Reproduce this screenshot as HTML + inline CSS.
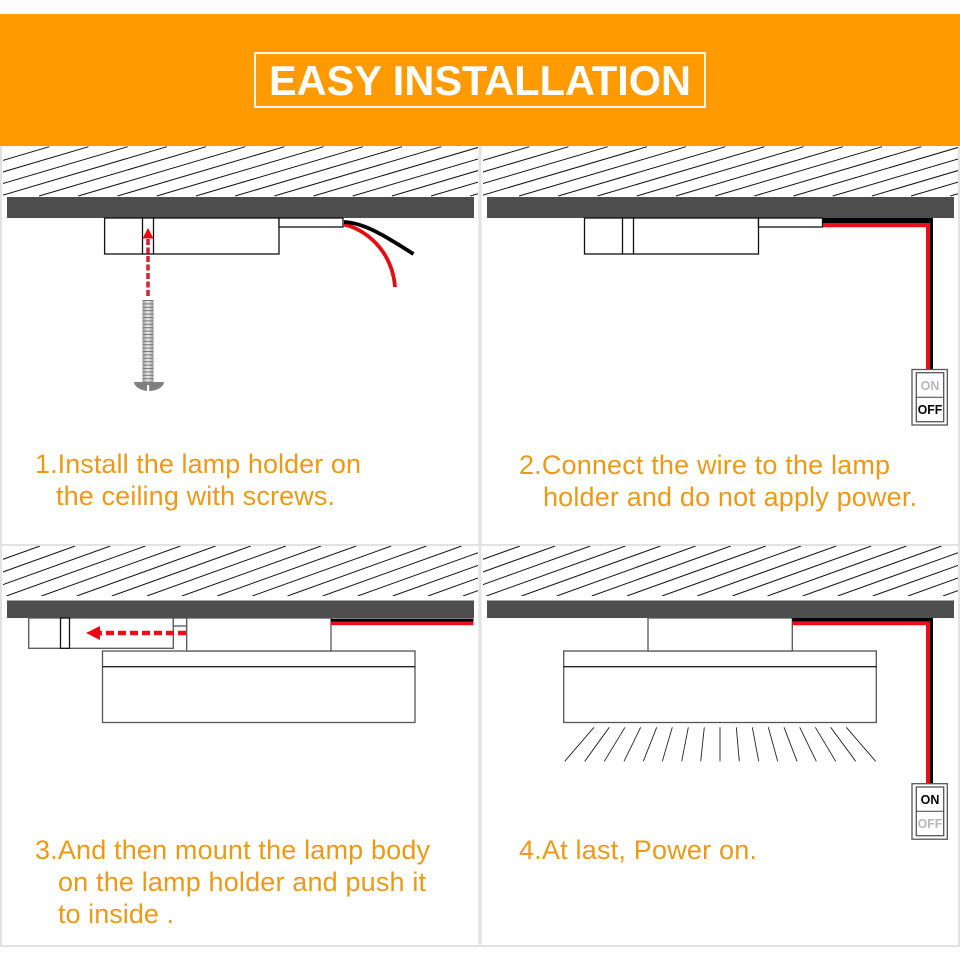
<!DOCTYPE html>
<html>
<head>
<meta charset="utf-8">
<style>
html,body{margin:0;padding:0;background:#fff}
svg{display:block}
text{font-family:"Liberation Sans",Arial,sans-serif}
.t{font-size:27px;fill:#eb9a18}
.b{fill:#fff;stroke:#111;stroke-width:1.3}
.g{fill:#fff;stroke:#555;stroke-width:1.3}
.s{font-size:13px;font-weight:bold;text-anchor:middle}
</style>
</head>
<body>
<svg width="960" height="960" viewBox="0 0 960 960" xmlns="http://www.w3.org/2000/svg">
<defs>
<clipPath id="c1"><rect x="3" y="146" width="475" height="50.500"/></clipPath>
<clipPath id="c3"><rect x="3" y="546" width="475" height="50"/></clipPath>
<g id="h1" clip-path="url(#c1)">
<path fill="none" stroke="#111" stroke-width="1" d="M49.300 146.700l-167 49.300M88.500 146.700l-167 49.300M127.700 146.700l-167 49.300M166.900 146.700l-167 49.300M206.100 146.700l-167 49.300M245.300 146.700l-167 49.300M284.500 146.700l-167 49.300M323.700 146.700l-167 49.300M362.900 146.700l-167 49.300M402.100 146.700l-167 49.300M441.300 146.700l-167 49.300M480.500 146.700l-167 49.300M519.700 146.700l-167 49.300M558.900 146.700l-167 49.300M598.100 146.700l-167 49.300M637.300 146.700l-167 49.300"/>
</g>
<g id="h3" clip-path="url(#c3)">
<path fill="none" stroke="#111" stroke-width="1" d="M40 546l-139 50M75.100 546l-139 50M110.300 546l-139 50M145.400 546l-139 50M180.500 546l-139 50M215.700 546l-139 50M250.800 546l-139 50M285.900 546l-139 50M321 546l-139 50M356.200 546l-139 50M391.300 546l-139 50M426.500 546l-139 50M461.600 546l-139 50M496.700 546l-139 50M531.800 546l-139 50M567 546l-139 50M602 546l-139 50"/>
</g>
<linearGradient id="thr" x1="0" x2="1" y1="0" y2="0">
<stop offset="0" stop-color="#999"/><stop offset=".5" stop-color="#eee"/><stop offset="1" stop-color="#999"/>
</linearGradient>
<pattern id="st" width="12" height="3.400" patternUnits="userSpaceOnUse" x="0" y="300">
<rect width="12" height="1" fill="#777"/>
</pattern>
</defs>

<rect x="0" y="14" width="960" height="132" fill="#ff9a00"/>
<rect x="255" y="53" width="450" height="54" fill="none" stroke="#fff" stroke-width="1.800"/>
<text x="269" y="95" font-size="41.500" font-weight="bold" fill="#fff" textLength="422" lengthAdjust="spacing">EASY INSTALLATION</text>

<!-- panel borders -->
<rect x="0" y="146" width="2" height="801" fill="#e2e2e2"/>
<rect x="958" y="146" width="2" height="801" fill="#e2e2e2"/>
<rect x="478.500" y="146" width="3" height="801" fill="#e2e2e2"/>
<rect x="0" y="544" width="960" height="2" fill="#e2e2e2"/>
<rect x="0" y="945" width="960" height="2" fill="#e2e2e2"/>

<!-- panel 1 -->
<use href="#h1"/>
<rect x="7" y="197" width="467" height="21" fill="#4d4d4d"/>
<rect class="b" x="104.600" y="218" width="174.400" height="36"/>
<path d="M142.500 218v36M153.500 218v36" stroke="#111" stroke-width="1.300"/>
<rect class="b" x="279" y="218" width="64" height="9"/>
<path d="M344 224.500C365 229 392 250 395 287" fill="none" stroke="#e60d12" stroke-width="3.800"/>
<path d="M344 222C365 223 385 236 413.500 254" fill="none" stroke="#000" stroke-width="3.800"/>
<path d="M148 296V238" stroke="#d52030" stroke-width="3.500" stroke-dasharray="6 2.500" fill="none"/>
<path d="M148 228l5.500 10.500h-11z" fill="#f00510"/>
<rect x="142.500" y="300" width="11" height="82" fill="url(#thr)"/>
<rect x="142.500" y="300" width="11" height="82" fill="url(#st)"/>
<path d="M134 382H164C163.500 387.500 156 391 149 391C142 391 134.500 387.500 134 382Z" fill="#808080"/>
<rect x="147" y="385" width="2.200" height="6" fill="#fff"/>
<text class="t" x="35" y="473" textLength="326" lengthAdjust="spacing">1.Install the lamp holder on</text>
<text class="t" x="56" y="505" textLength="279" lengthAdjust="spacing">the ceiling with screws.</text>

<!-- panel 2 -->
<use href="#h1" x="480"/>
<rect x="487" y="197" width="467" height="21" fill="#4d4d4d"/>
<rect class="b" x="584.500" y="218" width="174" height="36"/>
<path d="M622.500 218v36M633.500 218v36" stroke="#111" stroke-width="1.300"/>
<rect class="b" x="758.500" y="218" width="64" height="9"/>
<path d="M823 218H933V369H930V223H823Z" fill="#000"/>
<path d="M823 223H930V369H926V227.300H823Z" fill="#e8111a"/>
<rect class="g" x="912" y="369.500" width="35.300" height="55.500"/>
<rect class="g" x="916.300" y="372.700" width="27.400" height="49"/>
<path d="M916.300 397.300H943.700" stroke="#444" stroke-width="1"/>
<text class="s" x="930" y="390" fill="#b8b8b8" textLength="18.700" lengthAdjust="spacingAndGlyphs">ON</text>
<text class="s" x="930" y="414" fill="#000" textLength="24.500" lengthAdjust="spacingAndGlyphs">OFF</text>
<text class="t" x="519" y="474" textLength="371" lengthAdjust="spacing">2.Connect the wire to the lamp</text>
<text class="t" x="543" y="506" textLength="374" lengthAdjust="spacing">holder and do not apply power.</text>

<!-- panel 3 -->
<use href="#h3"/>
<rect x="7" y="600.500" width="467" height="17.500" fill="#4d4d4d"/>
<rect class="g" x="28.700" y="618" width="144.600" height="30.300"/>
<rect class="b" x="60.500" y="618" width="9" height="30.300"/>
<rect class="g" x="173.300" y="618" width="13.400" height="8"/>
<path d="M186 633H100" stroke="#e8111a" stroke-width="4.500" stroke-dasharray="8 4" fill="none"/>
<path d="M86 633l14-7v14z" fill="#f00510"/>
<rect class="g" x="102.500" y="651" width="312.500" height="71.500"/>
<path d="M102.500 666.700H415" stroke="#222" stroke-width="1.300"/>
<rect class="g" x="186.700" y="618" width="144.300" height="33"/>
<rect x="331" y="618.500" width="142.500" height="3" fill="#000"/>
<rect x="331" y="621.500" width="142.500" height="3.700" fill="#e8111a"/>
<text class="t" x="35" y="859" textLength="395" lengthAdjust="spacing">3.And then mount the lamp body</text>
<text class="t" x="58" y="891" textLength="368" lengthAdjust="spacing">on the lamp holder and push it</text>
<text class="t" x="58" y="923" textLength="116" lengthAdjust="spacing">to inside .</text>

<!-- panel 4 -->
<use href="#h3" x="480"/>
<rect x="487" y="600.500" width="467" height="17.500" fill="#4d4d4d"/>
<rect class="g" x="563.700" y="651" width="312.600" height="71.500"/>
<path d="M563.700 666.700H876.300" stroke="#222" stroke-width="1.300"/>
<rect class="g" x="648" y="618" width="144.300" height="33"/>
<path d="M792.300 618H933V783.500H930V621.700H792.300Z" fill="#000"/>
<path d="M792.300 621.700H930V783.500H926V625.300H792.300Z" fill="#e8111a"/>
<path fill="none" stroke="#222" stroke-width="0.900" d="M594 727.300L564.700 761.300M609.300 727.300L584.700 761.300M625 727.300L604.300 761.300M640.700 727.300L624 761.300M656.700 727.300L643.300 761.300M672.300 727.300L662.300 761.300M688.300 727.300L681.700 761.300M704.300 727.300L700.700 761.300M720 727.300V761.300M736.300 727.300L739.300 761.300M752.300 727.300L758.700 761.300M768.300 727.300L777.700 761.300M784 727.300L797 761.300M799.700 727.300L816.300 761.300M815.300 727.300L835.700 761.300M830.700 727.300L855.700 761.300M846.300 727.300L875.700 761.300"/>
<rect class="g" x="912" y="783.700" width="35.300" height="55.500"/>
<rect class="g" x="916.300" y="787" width="27.400" height="48.700"/>
<path d="M916.300 811.300H943.700" stroke="#444" stroke-width="1"/>
<text class="s" x="930" y="804" fill="#000" textLength="18.700" lengthAdjust="spacingAndGlyphs">ON</text>
<text class="s" x="930" y="828" fill="#b8b8b8" textLength="24.500" lengthAdjust="spacingAndGlyphs">OFF</text>
<text class="t" x="519" y="859" textLength="238" lengthAdjust="spacing">4.At last, Power on.</text>
</svg>
</body>
</html>
